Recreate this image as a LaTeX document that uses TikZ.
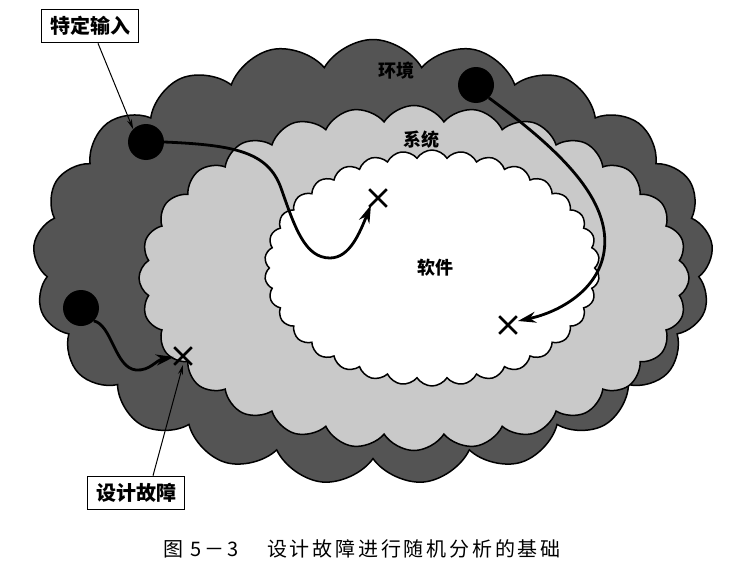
\documentclass[tikz,border=0pt]{standalone}
\usepackage{fontspec}
\newfontfamily\cjk{Noto Sans CJK SC}
\usetikzlibrary{shapes.symbols,shapes.misc,arrows.meta}
\begin{document}
\begin{tikzpicture}[x=1pt,y=-1pt,
  cloudbase/.style={cloud, draw=black, line width=1.5pt, cloud ignores aspect, inner sep=0pt},
  dot/.style={circle, fill=black, minimum size=36pt, inner sep=0pt},
  xmark/.style={cross out, draw=black, line width=2.6pt, minimum size=15pt, inner sep=0pt},
  lbl/.style={font=\cjk\bfseries\fontsize{18}{20}\selectfont},
  box/.style={draw=black, line width=1.6pt, fill=white, font=\cjk\bfseries\fontsize{20}{22}\selectfont, inner sep=2pt, minimum width=97pt, minimum height=33pt},
  trail/.style={line width=2.8pt, -{Stealth[length=18pt,width=11pt]}},
  pointer/.style={line width=1pt, -{Stealth[length=10pt,width=5pt]}},
  captxt/.style={anchor=west, font=\cjk\fontsize{20}{22}\selectfont\addfontfeature{LetterSpace=14}, inner sep=0pt}
]
\useasboundingbox (0,0) rectangle (753,570);
% clouds
\node[cloudbase, fill=black!67, cloud puffs=21, cloud puff arc=120, minimum width=680pt, minimum height=445pt] (env) at (373,262) {};
\node[cloudbase, fill=black!21, cloud puffs=28, cloud puff arc=115, minimum width=550pt, minimum height=345pt] (sys) at (414,278) {};
\node[cloudbase, fill=white, cloud puffs=34, cloud puff arc=115, minimum width=335pt, minimum height=236pt] (sw) at (432,268) {};
% labels
\node[lbl] (lenv) at (396,71) {环境};
\node[lbl] (lsys) at (421,140) {系统};
\node[lbl] (lsw) at (435,268) {软件};
% dots
\node[dot] (d1) at (146,142) {};
\node[dot] (d2) at (476,85) {};
\node[dot] (d3) at (81,308) {};
% x marks
\node[xmark] (x1) at (378,198) {};
\node[xmark] (x2) at (508,325) {};
\node[xmark] (x3) at (183,356) {};
\coordinate (e1) at (371,205);
\coordinate (e2) at (518,321);
\coordinate (e3) at (174,357);
% trails
\draw[trail] (d1.east) .. controls (235,145) and (268,152) .. (281,188)
  .. controls (295,228) and (305,258) .. (330,258)
  .. controls (350,258) and (360,232) .. (e1);
\draw[trail] (d2.south east) .. controls (560,150) and (612,200) .. (604,252)
  .. controls (598,290) and (560,312) .. (e2);
\draw[trail] (d3.south east) .. controls (112,325) and (115,368) .. (136,370)
  .. controls (150,371) and (156,360) .. (e3);
% boxes
\node[box] (b1) at (90,26) {特定输入};
\node[box] (b2) at (136,493) {设计故障};
\draw[pointer] (b1.south) ++(8,0) coordinate (p1) -- (d1.north west);
\draw[pointer] (b2.north) ++(17,0) coordinate (p2) -- (x3.south);
% caption
\node[captxt] (cap1) at (163,549) {图 5－3};
\node[captxt] (cap2) at (267,549) {设计故障进行随机分析的基础};
\end{tikzpicture}
\end{document}
